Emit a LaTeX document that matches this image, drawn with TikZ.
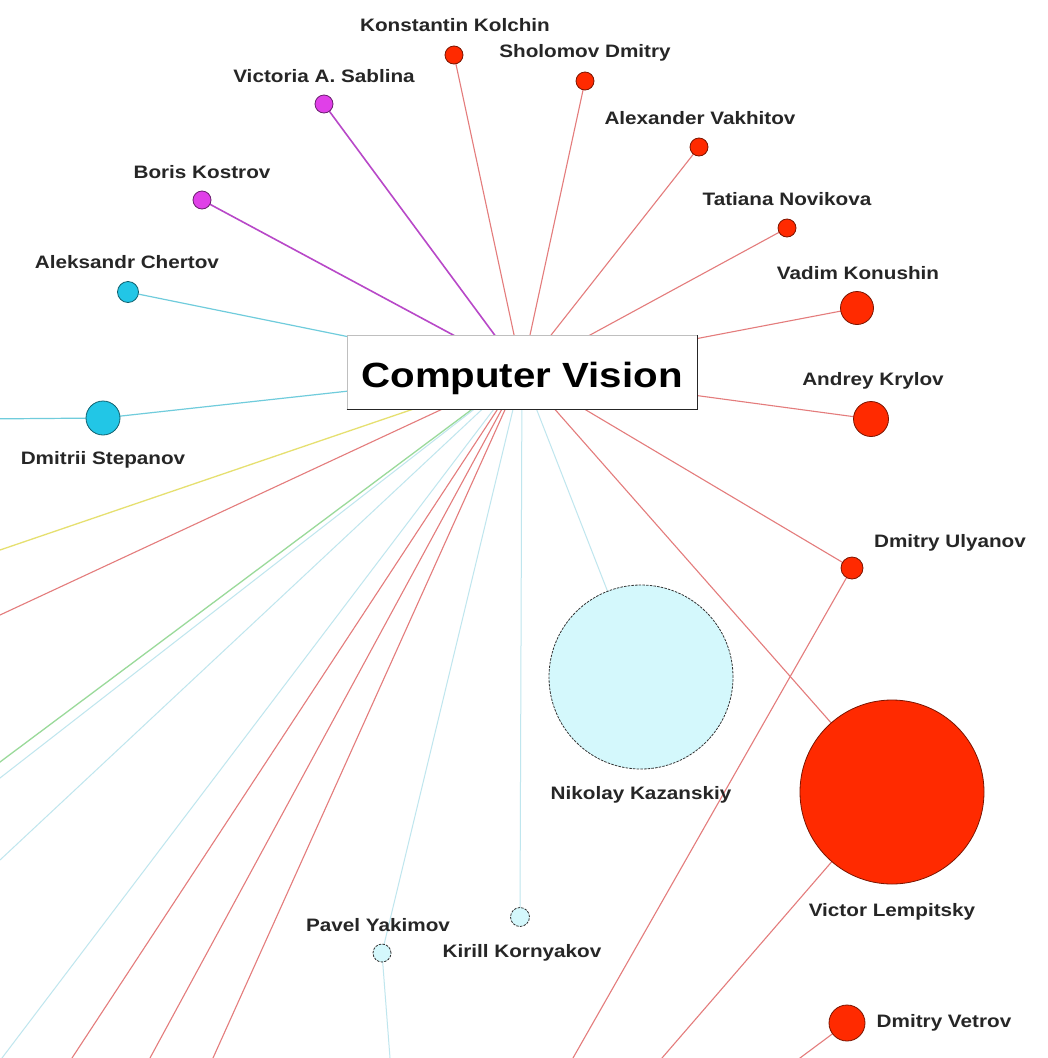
\documentclass[tikz,border=0pt]{standalone}
\usepackage{fontspec}
\setmainfont{Liberation Sans}
\newfontfamily\lbl[FakeStretch=1.15]{Liberation Sans}
\usetikzlibrary{calc}
\pgfdeclarelayer{bg}
\pgfsetlayers{bg,main}
\definecolor{nred}{HTML}{FF2A00}
\definecolor{nredd}{HTML}{7A1400}
\definecolor{nmag}{HTML}{E040E8}
\definecolor{nmagd}{HTML}{6A206E}
\definecolor{ncyan}{HTML}{22C6E6}
\definecolor{ncyand}{HTML}{10606E}
\definecolor{npale}{HTML}{D4F8FC}
\definecolor{ered}{HTML}{E47C7C}
\definecolor{emag}{HTML}{B848C8}
\definecolor{ecyan}{HTML}{70CCDC}
\definecolor{epale}{HTML}{BFE6EE}
\definecolor{eyel}{HTML}{E6E070}
\definecolor{egrn}{HTML}{9ADA9A}
\begin{document}
\begin{tikzpicture}[x=1pt,y=-1pt,
  pdot/.style={circle,inner sep=0pt,minimum size=#1},
  rednode/.style={pdot=#1,fill=nred,draw=nredd,line width=0.8pt},
  magnode/.style={pdot=#1,fill=nmag,draw=nmagd,line width=0.8pt},
  cyannode/.style={pdot=#1,fill=ncyan,draw=ncyand,line width=0.8pt},
  palenode/.style={pdot=#1,fill=npale,draw=black!80,line width=0.8pt,dash pattern=on 2.5pt off 1.2pt},
  lab/.style={font=\lbl\bfseries\fontsize{18}{20}\selectfont,inner sep=0pt,text=black!85},
  redE/.style={draw=ered,line width=1.1pt},
  magE/.style={draw=emag,line width=1.6pt},
  cyanE/.style={draw=ecyan,line width=1.2pt},
  paleE/.style={draw=epale,line width=1pt},
  yelE/.style={draw=eyel,line width=1.3pt},
  grnE/.style={draw=egrn,line width=1.3pt}
]
\useasboundingbox (0,0) rectangle (1048,1058);

% central box
\node[draw=black!25,line width=0.8pt,fill=white,minimum width=350pt,minimum height=74pt,inner sep=0pt] (cv) at (522,372) {};
\draw[black!85,line width=1.8pt] (cv.south west) -- (cv.south east) -- (cv.north east);
\node[anchor=base,inner sep=0pt,font=\lbl\bfseries\fontsize{35}{40}\selectfont] (cvt) at (522,387) {Computer Vision};

% nodes
\node[rednode=18pt] (kk) at (454,55) {};
\node[rednode=18pt] (sd) at (585,81) {};
\node[magnode=18pt] (vs) at (324,104) {};
\node[rednode=18pt] (av) at (699,147) {};
\node[magnode=18pt] (bk) at (202,200) {};
\node[rednode=18pt] (tn) at (787,228) {};
\node[cyannode=21pt] (ac) at (128,292) {};
\node[rednode=33pt] (vk) at (857,308) {};
\node[rednode=35pt] (ak) at (871,419) {};
\node[cyannode=34pt] (ds) at (103,418) {};
\node[rednode=22pt] (du) at (852,568) {};
\node[palenode=184pt] (nk) at (641,677) {};
\node[rednode=184pt] (vl) at (892,792) {};
\node[rednode=36pt] (dv) at (847,1023) {};
\node[palenode=19pt] (kko) at (520,917) {};
\node[palenode=18pt] (py) at (382,953) {};

% labels
\node[lab] (l1) at (455,25) {Konstantin Kolchin};
\node[lab] (l2) at (585,53) {Sholomov Dmitry};
\node[lab] (l3) at (324,76) {Victoria A. Sablina};
\node[lab] (l4) at (700,118) {Alexander Vakhitov};
\node[lab] (l5) at (202,172) {Boris Kostrov};
\node[lab] (l6) at (787,199) {Tatiana Novikova};
\node[lab] (l7) at (127,262) {Aleksandr Chertov};
\node[lab] (l8) at (858,273) {Vadim Konushin};
\node[lab] (l9) at (873,381) {Andrey Krylov};
\node[lab] (l10) at (103,460) {Dmitrii Stepanov};
\node[lab] (l11) at (950,543) {Dmitry Ulyanov};
\node[lab] (l12) at (641,795) {Nikolay Kazanskiy};
\node[lab] (l13) at (892,912) {Victor Lempitsky};
\node[lab] (l14) at (378,925) {Pavel Yakimov};
\node[lab] (l15) at (522,953) {Kirill Kornyakov};
\node[lab] (l16) at (944,1023) {Dmitry Vetrov};

% off-canvas ends
\coordinate (o0) at (-20,419);
\coordinate (o1) at (0,550);
\coordinate (o2) at (0,615);
\coordinate (o3) at (0,762);
\coordinate (o4) at (0,778);
\coordinate (o5) at (0,860);
\coordinate (o6) at (2,1058);
\coordinate (o7) at (72,1058);
\coordinate (o8) at (150,1058);
\coordinate (o9) at (213,1058);
\coordinate (p1) at (390,1058);
\coordinate (p2) at (573,1058);
\coordinate (p3) at (662,1058);
\coordinate (p4) at (800,1058);

\begin{pgfonlayer}{bg}
\fill[white] (0,0) rectangle (1048,1058);
\draw[redE] (cv.center) -- (kk.center);
\draw[redE] (cv.center) -- (sd.center);
\draw[magE] (cv.center) -- (vs.center);
\draw[redE] (cv.center) -- (av.center);
\draw[magE] (cv.center) -- (bk.center);
\draw[redE] (cv.center) -- (tn.center);
\draw[cyanE] (cv.center) -- (ac.center);
\draw[redE] (cv.center) -- (vk.center);
\draw[redE] (cv.center) -- (ak.center);
\draw[cyanE] (cv.center) -- (ds.center);
\draw[cyanE] (ds.center) -- (o0);
\draw[redE] (cv.center) -- (du.center);
\draw[paleE] (cv.center) -- (nk.center);
\draw[redE] (cv.center) -- (vl.center);
\draw[paleE] (cv.center) -- (kko.center);
\draw[paleE] (cv.center) -- (py.center);
\draw[paleE] (py.center) -- ($(py.center)!1.05!(p1)$);
\draw[redE] (du.center) -- ($(du.center)!1.03!(p2)$);
\draw[redE] (vl.center) -- ($(vl.center)!1.03!(p3)$);
\draw[redE] (dv.center) -- ($(dv.center)!1.2!(p4)$);
\draw[yelE] (cv.center) -- ($(cv.center)!1.03!(o1)$);
\draw[redE] (cv.center) -- ($(cv.center)!1.03!(o2)$);
\draw[grnE] (cv.center) -- ($(cv.center)!1.03!(o3)$);
\draw[paleE] (cv.center) -- ($(cv.center)!1.03!(o4)$);
\draw[paleE] (cv.center) -- ($(cv.center)!1.03!(o5)$);
\draw[paleE] (cv.center) -- ($(cv.center)!1.03!(o6)$);
\draw[redE] (cv.center) -- ($(cv.center)!1.03!(o7)$);
\draw[redE] (cv.center) -- ($(cv.center)!1.03!(o8)$);
\draw[redE] (cv.center) -- ($(cv.center)!1.03!(o9)$);
\end{pgfonlayer}
\end{tikzpicture}
\end{document}
